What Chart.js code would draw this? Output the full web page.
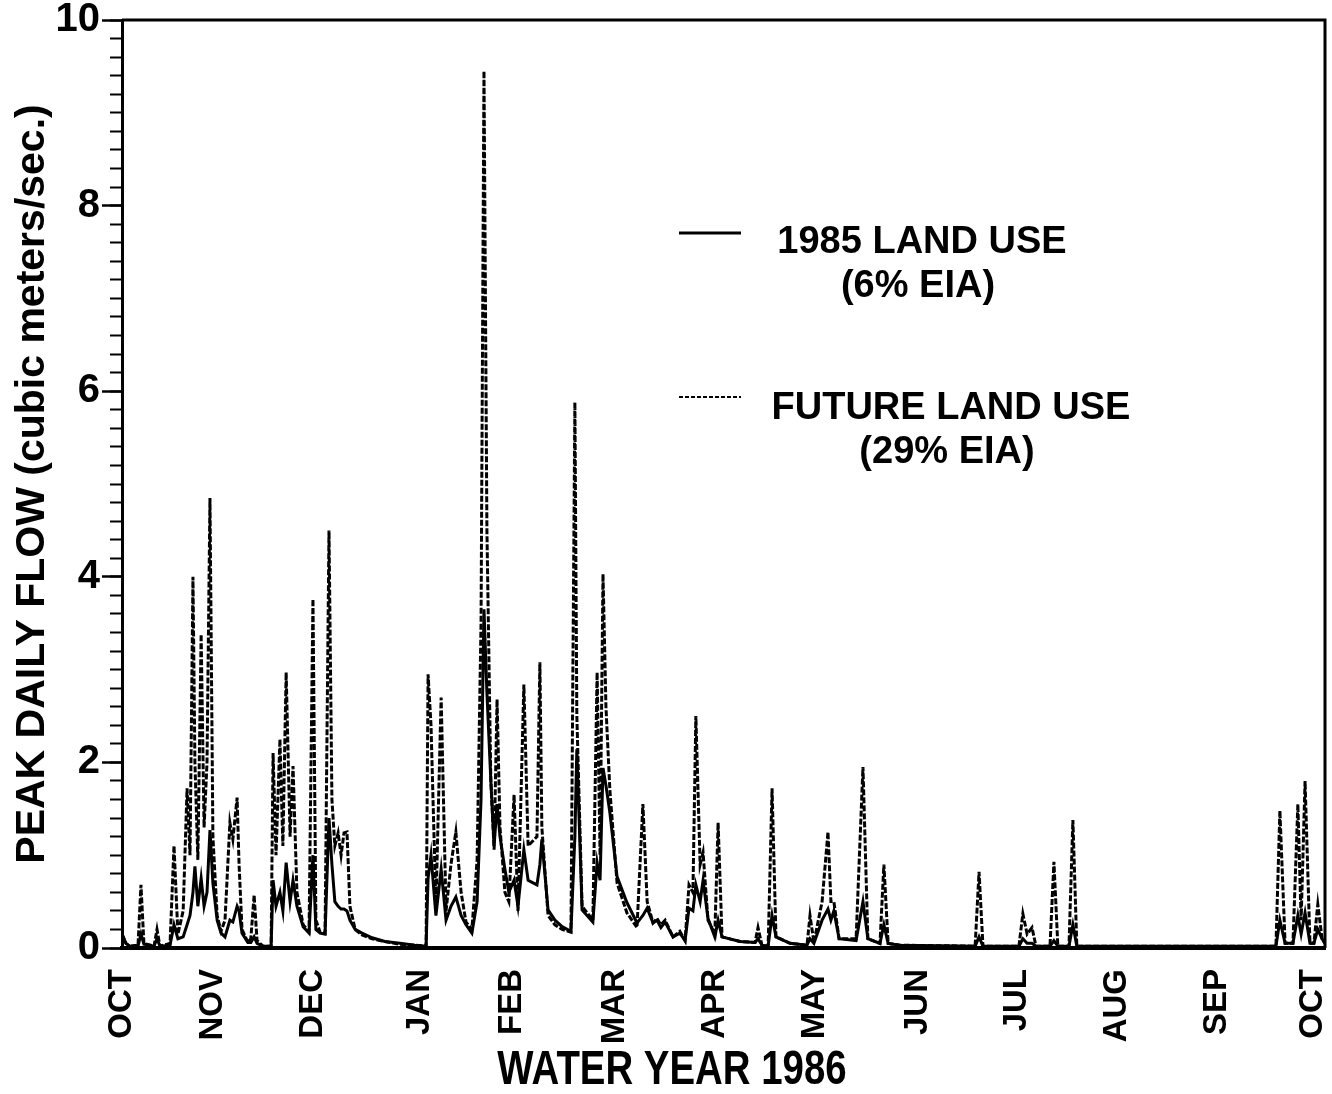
<!DOCTYPE html>
<html>
<head>
<meta charset="utf-8">
<title>Peak daily flow, water year 1986</title>
<script src="https://cdn.jsdelivr.net/npm/chart.js@4.4.1/dist/chart.umd.min.js"></script>
<style>
  html, body { margin: 0; padding: 0; background: #fff; }
  #wrap { width: 1332px; height: 1094px; }
</style>
</head>
<body>
<div id="wrap"><canvas id="flowChart" width="1332" height="1094"></canvas></div>
<script>
// Days since Oct 1 1985 (shared by both runs)
const days = [
  0.0, 1.2, 2.4, 4.9, 5.8, 6.7, 9.8, 10.7, 11.6, 14.7,
  15.9, 17.1, 18.7, 19.9, 20.8, 21.7, 22.3, 23.2, 24.2, 25.1,
  26.0, 26.9, 27.8, 29.1, 30.3, 31.5, 33.0, 33.9, 35.2, 35.8,
  36.7, 38.5, 39.4, 40.4, 41.3, 43.1, 45.6, 46.2, 47.1, 48.3,
  49.2, 50.2, 51.4, 52.3, 53.5, 55.4, 57.2, 58.4, 59.3, 60.6,
  62.1, 63.3, 64.2, 65.1, 66.1, 67.0, 67.9, 68.8, 69.7, 71.3,
  73.4, 76.5, 80.4, 85.0, 89.6, 93.0, 93.6, 94.5, 96.0, 97.6,
  99.1, 100.6, 102.1, 103.7, 105.2, 107.0, 108.6, 109.8, 110.7, 111.6,
  112.8, 113.8, 114.7, 115.6, 117.1, 118.3, 119.9, 121.1, 122.9, 124.2,
  126.9, 127.8, 128.4, 130.3, 132.4, 134.6, 137.3, 138.5, 139.1, 140.7,
  144.0, 145.3, 146.2, 147.1, 148.0, 149.2, 151.4, 154.4, 157.5, 159.3,
  160.6, 162.4, 163.6, 164.8, 166.1, 168.5, 170.6, 172.2, 173.4, 174.6,
  175.5, 176.8, 177.7, 179.2, 181.3, 182.3, 183.5, 189.0, 193.6, 194.5,
  195.7, 197.6, 198.8, 200.0, 204.3, 209.5, 210.4, 211.6, 214.1, 215.9,
  216.8, 217.7, 219.3, 224.5, 226.6, 228.1, 231.8, 233.0, 234.3, 237.9,
  260.9, 262.1, 263.3, 274.3, 275.5, 276.8, 278.3, 279.5, 283.8, 285.0,
  286.2, 289.6, 290.8, 292.0, 352.9, 354.1, 355.7, 358.1, 359.6, 360.6,
  361.8, 363.3, 364.5, 365.7, 367.0, 367.9
];

// 1985 land use (6% EIA), m3/s
const flow1985 = [
  0.15, 0.05, 0.02, 0.02, 0.15, 0.04, 0.02, 0.10, 0.02, 0.03,
  0.25, 0.10, 0.12, 0.25, 0.35, 0.60, 0.88, 0.45, 0.75, 0.45,
  0.60, 1.27, 0.70, 0.30, 0.16, 0.12, 0.30, 0.28, 0.45, 0.40,
  0.16, 0.06, 0.06, 0.12, 0.05, 0.02, 0.02, 0.73, 0.45, 0.60,
  0.40, 0.92, 0.50, 0.73, 0.45, 0.23, 0.16, 1.00, 0.20, 0.16,
  0.15, 1.40, 0.90, 0.50, 0.45, 0.42, 0.42, 0.40, 0.30, 0.20,
  0.16, 0.11, 0.07, 0.05, 0.03, 0.02, 0.75, 1.00, 0.35, 0.85,
  0.30, 0.45, 0.55, 0.35, 0.25, 0.16, 0.50, 1.60, 3.65, 2.75,
  1.80, 1.10, 1.55, 1.20, 0.85, 0.60, 0.73, 0.45, 1.06, 0.73,
  0.68, 0.90, 1.17, 0.41, 0.30, 0.23, 0.18, 1.20, 2.14, 0.41,
  0.28, 0.92, 0.73, 1.94, 1.75, 1.46, 0.77, 0.49, 0.27, 0.35,
  0.43, 0.27, 0.30, 0.22, 0.28, 0.12, 0.16, 0.08, 0.43, 0.40,
  0.68, 0.50, 0.73, 0.32, 0.12, 0.30, 0.12, 0.07, 0.06, 0.10,
  0.03, 0.02, 0.35, 0.12, 0.05, 0.03, 0.10, 0.05, 0.30, 0.42,
  0.30, 0.40, 0.10, 0.08, 0.50, 0.10, 0.05, 0.25, 0.05, 0.03,
  0.02, 0.12, 0.02, 0.02, 0.10, 0.05, 0.05, 0.02, 0.02, 0.08,
  0.02, 0.02, 0.25, 0.02, 0.02, 0.30, 0.05, 0.05, 0.35, 0.15,
  0.38, 0.05, 0.05, 0.20, 0.10, 0.05
];

// future land use (29% EIA), m3/s
const flowFuture = [
  0.15, 0.05, 0.02, 0.03, 0.68, 0.05, 0.02, 0.20, 0.02, 0.05,
  1.10, 0.15, 0.40, 1.72, 1.00, 4.00, 2.00, 0.95, 3.38, 1.30,
  2.00, 4.85, 1.20, 0.35, 0.18, 0.30, 1.35, 1.17, 1.62, 0.90,
  0.20, 0.06, 0.10, 0.57, 0.08, 0.02, 0.02, 2.10, 1.00, 2.25,
  1.10, 2.97, 1.20, 1.96, 0.60, 0.25, 0.18, 3.76, 0.30, 0.17,
  0.16, 4.50, 1.60, 1.10, 1.24, 1.00, 1.24, 1.25, 0.45, 0.20,
  0.14, 0.10, 0.07, 0.04, 0.03, 0.02, 2.95, 2.40, 0.45, 2.70,
  0.40, 0.90, 1.25, 0.60, 0.28, 0.20, 0.95, 3.50, 9.45, 4.50,
  1.80, 1.06, 2.68, 1.30, 0.60, 0.50, 1.65, 0.40, 2.84, 1.10,
  1.20, 3.08, 1.30, 0.35, 0.25, 0.20, 0.17, 5.88, 2.50, 0.45,
  0.30, 2.97, 1.00, 4.03, 2.60, 1.70, 0.70, 0.38, 0.22, 1.55,
  0.50, 0.27, 0.32, 0.25, 0.30, 0.12, 0.18, 0.08, 0.68, 0.60,
  2.50, 0.90, 1.03, 0.30, 0.15, 1.35, 0.12, 0.07, 0.06, 0.22,
  0.03, 0.02, 1.72, 0.12, 0.05, 0.03, 0.35, 0.06, 0.50, 1.25,
  0.50, 0.50, 0.10, 0.10, 1.95, 0.10, 0.05, 0.90, 0.05, 0.03,
  0.02, 0.82, 0.02, 0.02, 0.37, 0.15, 0.22, 0.02, 0.02, 0.93,
  0.02, 0.02, 1.38, 0.02, 0.02, 1.48, 0.05, 0.05, 1.55, 0.30,
  1.80, 0.05, 0.05, 0.47, 0.10, 0.05
];

// month label positions (day of water year) and names
const monthTicks = [0, 27.8, 58.4, 91.1, 119.3, 150.8, 181.3, 211.9, 243.4, 273.7, 304.3, 334.9, 364.2];
const monthLabels = ['OCT', 'NOV', 'DEC', 'JAN', 'FEB', 'MAR', 'APR', 'MAY', 'JUN', 'JUL', 'AUG', 'SEP', 'OCT'];

const seriesNames = ['1985 LAND USE', 'FUTURE LAND USE'];
const seriesNotes = ['(6% EIA)', '(29% EIA)'];
const xTitle = 'WATER YEAR 1986';
const yTitle = 'PEAK DAILY FLOW (cubic meters/sec.)';

const SANS = '"Liberation Sans", Arial, Helvetica, sans-serif';

const toPoints = vals => days.map((d, i) => ({ x: d, y: vals[i] }));

// keep the plot box fixed: no extra room for overhanging labels
const noOverhang = scale => {
  scale.paddingLeft = 0;
  scale.paddingRight = 0;
  scale.paddingTop = 0;
  scale.paddingBottom = 0;
};

// top + right edges of the plot box
const frameBox = {
  id: 'frameBox',
  afterDraw(chart) {
    const { ctx, chartArea: a } = chart;
    ctx.save();
    ctx.strokeStyle = '#000';
    ctx.lineWidth = 3;
    ctx.beginPath();
    ctx.moveTo(a.left, a.top);
    ctx.lineTo(a.right, a.top);
    ctx.lineTo(a.right, a.bottom);
    ctx.stroke();
    ctx.restore();
  }
};

// x axis caption in a condensed bold face (squeezed horizontally)
const xCaption = {
  id: 'xCaption',
  afterDraw(chart) {
    const { ctx } = chart;
    ctx.save();
    ctx.translate(672, 1084);
    ctx.scale(0.8, 1);
    ctx.fillStyle = '#000';
    ctx.font = 'bold 48px ' + SANS;
    ctx.textAlign = 'center';
    ctx.textBaseline = 'alphabetic';
    ctx.fillText(xTitle, 0, 0);
    ctx.restore();
  }
};

// legend drawn inside the plot, two lines of text per series
const landUseLegend = {
  id: 'landUseLegend',
  afterDraw(chart) {
    const { ctx } = chart;
    const rows = [
      { lineY: 233, cx: 922, y1: 243, y2: 287 },
      { lineY: 397, cx: 951, y1: 409, y2: 453 }
    ];
    ctx.save();
    chart.data.datasets.forEach((ds, i) => {
      const r = rows[i];
      ctx.strokeStyle = '#000';
      ctx.lineWidth = i === 0 ? 3 : 2;
      ctx.setLineDash(i === 0 ? [] : [4, 2]);
      ctx.beginPath();
      ctx.moveTo(679, r.lineY);
      ctx.lineTo(741, r.lineY);
      ctx.stroke();
      ctx.setLineDash([]);
      ctx.fillStyle = '#000';
      ctx.font = 'bold 38px ' + SANS;
      ctx.textAlign = 'center';
      ctx.textBaseline = 'middle';
      ctx.fillText(seriesNames[i], r.cx, r.y1);
      ctx.fillText(seriesNotes[i], r.cx - 4, r.y2);
    });
    ctx.restore();
  }
};

new Chart(document.getElementById('flowChart'), {
  type: 'line',
  data: {
    datasets: [
      {
        label: seriesNames[0],
        data: toPoints(flow1985),
        borderColor: '#000',
        borderWidth: 3,
        pointRadius: 0,
        tension: 0,
        fill: false
      },
      {
        label: seriesNames[1],
        data: toPoints(flowFuture),
        borderColor: '#000',
        borderWidth: 3,
        borderDash: [6, 2],
        pointRadius: 0,
        tension: 0,
        fill: false
      }
    ]
  },
  options: {
    responsive: false,
    animation: false,
    devicePixelRatio: 1,
    layout: { padding: { top: 20, right: 7, bottom: 0, left: 0 } },
    plugins: {
      legend: { display: false },
      tooltip: { enabled: false }
    },
    scales: {
      x: {
        type: 'linear',
        min: 0,
        max: 367.9,
        afterBuildTicks: scale => { scale.ticks = monthTicks.map(v => ({ value: v })); },
        afterFit: scale => { scale.height = 146; noOverhang(scale); },
        ticks: {
          autoSkip: false,
          minRotation: 90,
          maxRotation: 90,
          padding: 21,
          color: '#000',
          font: { family: SANS, size: 33, weight: 'bold' },
          callback: (v, i) => monthLabels[i]
        },
        grid: { drawOnChartArea: false, drawTicks: false },
        border: { display: true, color: '#000', width: 4 }
      },
      y: {
        position: 'left',
        weight: 1,
        min: 0,
        max: 10,
        afterFit: scale => { scale.width = 122; noOverhang(scale); },
        ticks: {
          stepSize: 2,
          padding: 2,
          color: '#000',
          font: { family: SANS, size: 40, weight: 'bold' }
        },
        grid: { drawOnChartArea: false, drawTicks: true, tickLength: 20, tickWidth: 2.5, tickColor: '#000' },
        border: { display: true, color: '#000', width: 3 },
        title: {
          display: true,
          text: yTitle,
          color: '#000',
          font: { family: SANS, size: 41, weight: 'bold' },
          padding: { top: 8, bottom: 0 }
        }
      },
      // minor ticks every 0.2
      yMinor: {
        position: 'left',
        weight: 0,
        min: 0,
        max: 10,
        afterFit: scale => { scale.width = 0; noOverhang(scale); },
        ticks: { stepSize: 0.2, autoSkip: false, font: { size: 1 }, callback: () => '' },
        grid: { drawOnChartArea: false, drawTicks: true, tickLength: 12, tickWidth: 2, tickColor: '#000' },
        border: { display: false }
      }
    }
  },
  plugins: [frameBox, xCaption, landUseLegend]
});
</script>
</body>
</html>
